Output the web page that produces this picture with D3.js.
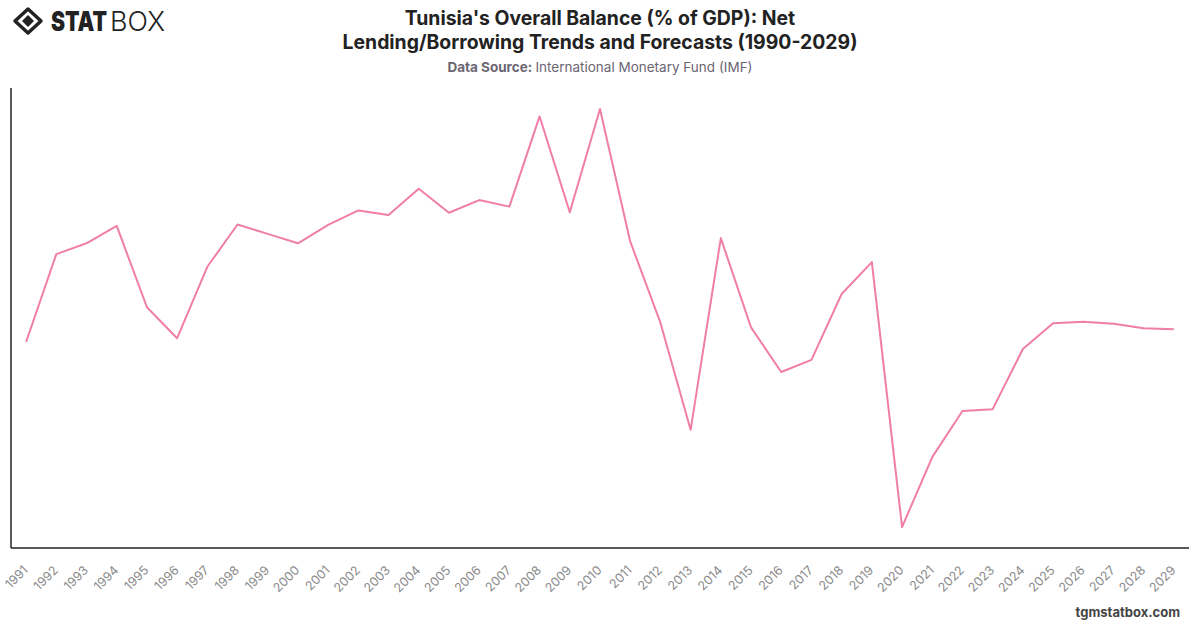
<!DOCTYPE html>
<html>
<head>
<meta charset="utf-8">
<script src="https://cdn.jsdelivr.net/npm/d3@7"></script>
<style>
  body { margin: 0; background: #fff; }
  #container { width: 1200px; height: 628px; }
</style>
</head>
<body>
<div id="container"></div>
<script>
let w = 1200;
let h = 628;

// years on the x axis
let years = ["1991","1992","1993","1994","1995","1996","1997","1998","1999","2000",
  "2001","2002","2003","2004","2005","2006","2007","2008","2009","2010",
  "2011","2012","2013","2014","2015","2016","2017","2018","2019","2020",
  "2021","2022","2023","2024","2025","2026","2027","2028","2029"];

// overall balance, % of GDP
let balance = [-5.46, -3.59, -3.36, -2.99, -4.72, -5.38, -3.86, -2.96, -3.16, -3.36,
  -2.97, -2.66, -2.76, -2.2, -2.71, -2.44, -2.58, -0.66, -2.7, -0.5,
  -3.32, -5.05, -7.33, -3.25, -5.15, -6.1, -5.84, -4.44, -3.76, -9.4,
  -7.91, -6.93, -6.89, -5.61, -5.06, -5.03, -5.07, -5.17, -5.19];

let titleLines = ["Tunisia's Overall Balance (% of GDP): Net",
  "Lending/Borrowing Trends and Forecasts (1990-2029)"];

let data = years.map(function(y, i){
  return {year: y, value: balance[i]};
});

let viz = d3.select("#container")
  .append("svg")
    .attr("width", w)
    .attr("height", h)
    .style("background-color", "#ffffff")
    .style("font-family", "Inter, 'Open Sans', sans-serif");

// plot area
let plotLeft = 11, plotRight = 1189, plotTop = 88, plotBottom = 548;

let xScale = d3.scalePoint().domain(years).range([plotLeft, plotRight]).padding(0.5);

let yExtent = d3.extent(balance);
let pad = (yExtent[1] - yExtent[0]) * 0.05;
let yScale = d3.scaleLinear()
  .domain([yExtent[0] - pad, yExtent[1] + pad])
  .range([plotBottom, plotTop]);

// x axis
let xAxis = d3.axisBottom(xScale).tickSize(0).tickPadding(0);
let xAxisGroup = viz.append("g").attr("class", "xaxis")
  .attr("transform", "translate(0," + plotBottom + ")")
  .call(xAxis);
xAxisGroup.select(".domain")
  .attr("stroke", "#222").attr("stroke-width", 1.5)
  .attr("d", "M" + plotLeft + ",0H" + plotRight);
xAxisGroup.selectAll(".tick text")
  .attr("fill", "#8a8a8a")
  .style("font-size", "12.5px")
  .style("font-family", "Inter, sans-serif")
  .attr("text-anchor", "end")
  .attr("y", 0)
  .attr("dy", 0)
  .attr("transform", "translate(2,23) rotate(-45)");

// y axis, line only
let yAxis = d3.axisLeft(yScale).ticks(0).tickSize(0).tickFormat("");
let yAxisGroup = viz.append("g").attr("class", "yaxis")
  .attr("transform", "translate(" + plotLeft + ",0)")
  .call(yAxis);
yAxisGroup.select(".domain")
  .attr("stroke", "#222").attr("stroke-width", 1.5)
  .attr("d", "M0," + plotTop + "V" + plotBottom);

// the line
let line = d3.line()
  .x(function(d){ return xScale(d.year); })
  .y(function(d){ return yScale(d.value); });

viz.append("path")
  .datum(data)
  .attr("fill", "none")
  .attr("stroke", "#f07ea8")
  .attr("stroke-width", 2)
  .attr("stroke-linejoin", "round")
  .attr("d", line);

// title
let title = viz.append("text")
  .attr("text-anchor", "middle")
  .attr("fill", "#222")
  .style("font-size", "19.4px")
  .style("font-weight", "700");
titleLines.forEach(function(t, i){
  title.append("tspan").attr("x", 600).attr("y", 25 + i * 24).text(t);
});

let sub = viz.append("text")
  .attr("x", 600).attr("y", 72)
  .attr("text-anchor", "middle")
  .attr("fill", "#6b6672")
  .style("font-size", "13.5px");
sub.append("tspan").style("font-weight", "700").text("Data Source: ");
sub.append("tspan").text("International Monetary Fund (IMF)");

// footer
viz.append("text")
  .attr("x", 1180).attr("y", 617)
  .attr("text-anchor", "end")
  .attr("fill", "#444")
  .style("font-size", "13px")
  .style("font-weight", "700")
  .text("tgmstatbox.com");

// logo
let logo = viz.append("g").attr("transform", "translate(28,21)");
logo.append("path")
  .attr("d", "M0,-12 L13,0 L0,12 L-13,0 Z")
  .attr("fill", "none").attr("stroke", "#222").attr("stroke-width", 3.5)
  .attr("stroke-linejoin", "round");
logo.append("path")
  .attr("d", "M0,-6 L6,0 L0,6 L-6,0 Z")
  .attr("fill", "#222");

// squeeze each word horizontally so it fits the logo width
function brandWord(txt, weight, x0, width){
  let t = viz.append("text")
    .attr("x", 0).attr("y", 0)
    .attr("fill", "#222")
    .style("font-size", "27px")
    .style("font-weight", weight)
    .text(txt);
  let natural = t.node().getComputedTextLength();
  t.attr("transform", "translate(" + x0 + ",31) scale(" + (width / natural) + ",1)");
}
brandWord("STAT", "900", 51, 56);
brandWord("BOX", "300", 110, 55);
</script>
</body>
</html>
